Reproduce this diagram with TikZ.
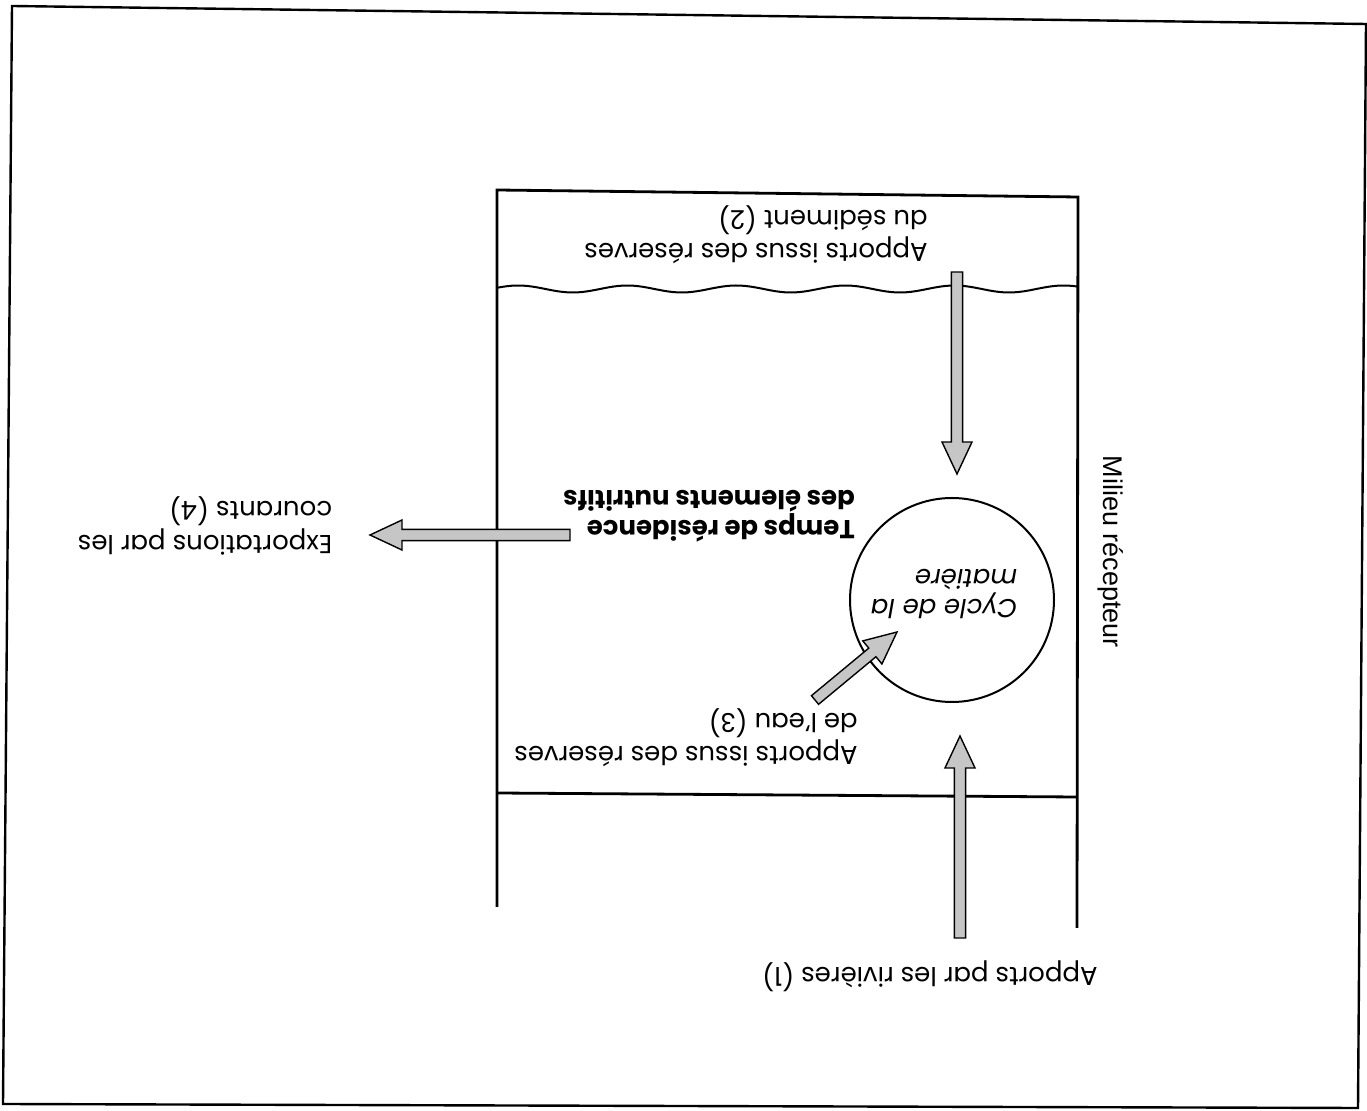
\documentclass[tikz,border=0pt]{standalone}
\usepackage{fontspec}
\setmainfont{Poppins}
\newfontfamily\helvfont{Liberation Sans}
\usetikzlibrary{calc}
\tikzset{
  txt/.style={rotate=180,align=left,inner sep=0pt,font=\fontsize{13}{15}\selectfont},
  fat/.style={draw=black,fill=gray!45,line width=0.7pt,line join=miter},
  wall/.style={line width=1.4pt},
}
% thick grey arrow with black outline, from #1 to #2
\newcommand{\fatarrow}[2]{%
  \draw[fat] let \p1=($(#2)-(#1)$), \n1={atan2(\y1,\x1)}, \n2={veclen(\x1,\y1)} in
    [shift={(#1)},rotate=\n1] (0pt,-2.8pt) -- ({\n2*1pt-16pt},-2.8pt) -- ({\n2*1pt-16pt},-7.5pt)
    -- ({\n2*1pt},0pt) -- ({\n2*1pt-16pt},7.5pt) -- ({\n2*1pt-16pt},2.8pt) -- (0pt,2.8pt) -- cycle;}
\begin{document}
\begin{tikzpicture}[x=0.5pt,y=-0.5pt]
        \useasboundingbox (0,0) rectangle (1367,1111);
        \draw[line width=1.2pt] (12,6) -- (1366,24) -- (1358,1108) -- (3,1104) -- cycle;
        % receiving box
        \draw[wall] (497,907) -- (497,190) -- (1078,197) -- (1077,928);
        \draw[wall] (497,793) -- (1077,797);
        \draw[line width=1pt] plot[domain=497:1077,samples=120,variable=\x] (\x,{289+3.5*sin(\x*3.3)});
        \node[circle,draw,line width=1pt,minimum size=102pt,inner sep=0pt] (cycle) at (952,600) {};
        % texts
        \node[txt] (sedtxt) at (756,235) {Apports issus des réserves\\du sédiment (2)};
        \node[txt] (eautxt) at (686,738) {Apports issus des réserves\\de l'eau (3)};
        \node[txt,font=\bfseries\fontsize{13}{15}\selectfont] (restxt) at (709,516) {Temps de résidence\\des élements nutritifs};
        \node[txt,font=\itshape\fontsize{13}{15}\selectfont] (cyclbl) at (944,594) {Cycle de la\\matière};
        \node[txt] (exptxt) at (205,526) {Exportations par les\\courants (4)};
        \node[txt] (rivtxt) at (930,976) {Apports par les rivières (1)};
        \node[rotate=-90,inner sep=0pt,font=\helvfont\fontsize{13.5}{15}\selectfont] (milieu) at (1111,552) {Milieu récepteur};
        % arrows
        \coordinate (sedsrc) at (957,272);
        \coordinate (sedtip) at ($(cycle.north)+(5,-23)$);
        \coordinate (rivsrc) at (960,938);
        \coordinate (rivtip) at ($(cycle.south)+(8,33)$);
        \coordinate (eausrc) at (815,700);
        \coordinate (eautip) at (897,632);
        \coordinate (expsrc) at (570,535);
        \coordinate (exptip) at (370,535);
        \fatarrow{sedsrc}{sedtip}
        \fatarrow{rivsrc}{rivtip}
        \fatarrow{eausrc}{eautip}
        \fatarrow{expsrc}{exptip}
\end{tikzpicture}
\end{document}
